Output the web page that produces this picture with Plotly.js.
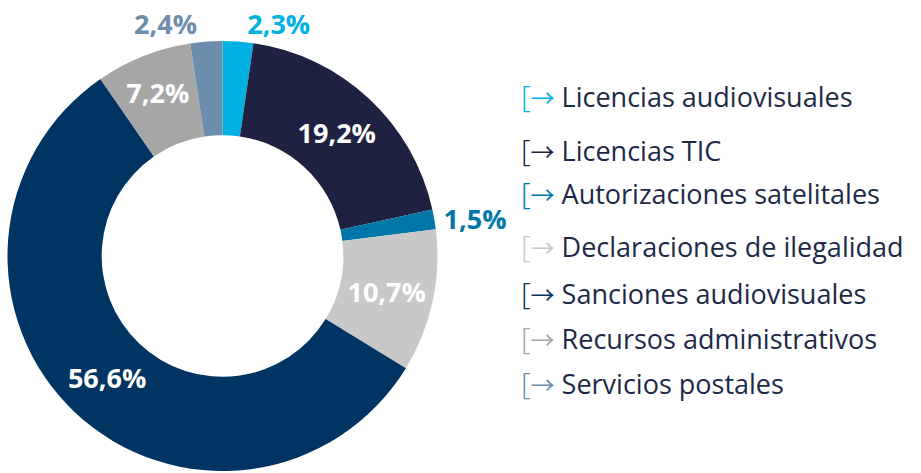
<!DOCTYPE html>
<html><head><meta charset="utf-8">
<script src="https://cdn.plot.ly/plotly-3.0.1.min.js"></script>
<style>html,body{margin:0;padding:0;background:#fff;}#chart{width:921px;height:473px;}</style>
</head><body><div id="chart"></div>
<script>
const categories = ["Licencias audiovisuales","Licencias TIC","Autorizaciones satelitales","Declaraciones de ilegalidad","Sanciones audiovisuales","Recursos administrativos","Servicios postales"];
const shares = [2.3, 19.2, 1.5, 10.7, 56.6, 7.2, 2.4];
const labelPlacement = ["outside","inside","outside","inside","inside","inside","outside"];

const colors = ["#00b1e1","#1e213f","#0077a8","#c8c8c8","#003462","#a6a6a6","#6c8dab"];
const textColors = labelPlacement.map((p,i)=> p==="inside" ? "#ffffff" : colors[i]);
const fontFam = "'Open Sans', sans-serif";

const trace = {
  type: "pie",
  labels: categories,
  values: shares,
  sort: false,
  direction: "clockwise",
  rotation: 0,
  hole: 0.562,
  marker: {colors: colors, line: {width: 0}},
  textposition: labelPlacement,
  texttemplate: "%{value:.1f}%",
  textfont: {family: fontFam, size: 27, color: textColors, weight: 700},
  insidetextorientation: "horizontal",
  domain: {x: [0.00814, 0.475], y: [0.0042, 0.9133]},
  showlegend: false,
  hoverinfo: "label+percent"
};

const legendY = [95,149,193,245,292,337,382];
const annotations = categories.map((c,i)=>({
  xref: "paper", yref: "paper",
  x: 519/921, y: 1 - legendY[i]/473,
  xanchor: "left", yanchor: "middle",
  showarrow: false,
  text: '<span style="fill:'+colors[i]+';font-family:\'Open Sans\';font-weight:300;font-size:30px">[</span>' +
        '<span style="fill:'+colors[i]+';font-family:\'Noto Sans CJK JP\';font-size:24px">→</span> ' + c,
  font: {family: fontFam, size: 27, color: "#1d2947"}
}));

Plotly.newPlot("chart", [trace], {
  width: 921, height: 473,
  margin: {l:0,r:0,t:0,b:0},
  paper_bgcolor: "#fff",
  separators: ",.",
  annotations: annotations
}, {displayModeBar: false, staticPlot: true});
</script></body></html>
